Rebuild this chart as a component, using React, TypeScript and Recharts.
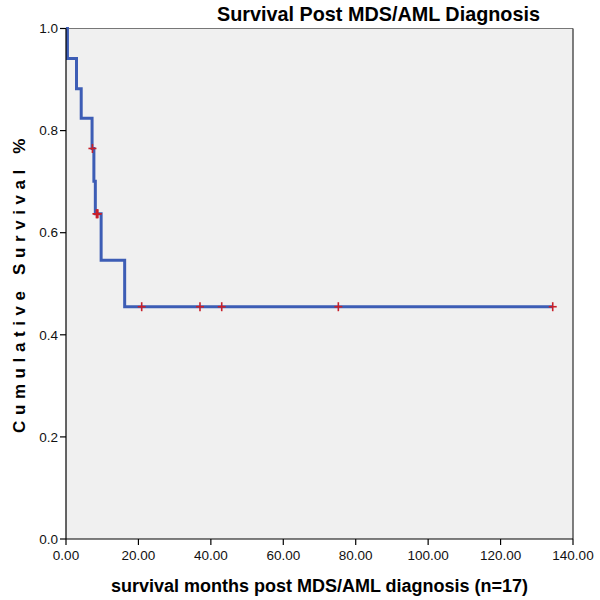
import React from "react";
import {
  ComposedChart,
  Line,
  Scatter,
  XAxis,
  YAxis,
  CartesianGrid,
  ReferenceLine,
} from "recharts";

// Kaplan-Meier step curve (event times in months, cumulative survival)
const stepTimes = [0, 0.4, 2.9, 4.2, 7.2, 7.7, 8.1, 9.7, 16.2, 134.4];
const stepSurvival = [1.0, 0.941, 0.882, 0.824, 0.765, 0.701, 0.637, 0.546, 0.455, 0.455];

// Censored observations
const censorTimes = [7.3, 8.4, 8.6, 8.8, 20.9, 37.0, 43.0, 75.2, 134.4];
const censorSurvival = [0.765, 0.637, 0.637, 0.637, 0.455, 0.455, 0.455, 0.455, 0.455];

const xTicks = [0, 20, 40, 60, 80, 100, 120, 140];
const yTicks = [0, 0.2, 0.4, 0.6, 0.8, 1.0];

const curveData = stepTimes.map((t, i) => ({ t, s: stepSurvival[i] }));
const censorData = censorTimes.map((t, i) => ({ t, s: censorSurvival[i] }));

const FONT = "'Liberation Sans', Arial, Helvetica, sans-serif";

const Plus = (props: any) => {
  const { cx, cy } = props;
  if (cx == null || cy == null) return null;
  return (
    <g>
      <line x1={cx - 4} x2={cx + 4} y1={cy} y2={cy} stroke="#C8202A" strokeWidth={1.6} />
      <line x1={cx} x2={cx} y1={cy - 4.5} y2={cy + 4.5} stroke="#C8202A" strokeWidth={1.6} />
    </g>
  );
};

export default function App() {
  return (
    <div style={{ position: "absolute", left: 0, top: 0, width: 600, height: 600, background: "#fff" }}>
      <ComposedChart
        width={600}
        height={600}
        margin={{ top: 28.5, right: 27, left: 0, bottom: 0 }}
        style={{ fontFamily: FONT }}
      >
        <CartesianGrid
          horizontal={false}
          vertical={false}
          fill="#F0F0F0"
          stroke="none"
        />
        <XAxis
          type="number"
          dataKey="t"
          domain={[0, 140]}
          ticks={xTicks}
          tickFormatter={(v: number) => v.toFixed(2)}
          allowDataOverflow
          height={61}
          tickSize={6}
          tickMargin={5}
          axisLine={{ stroke: "#000", strokeWidth: 1.2 }}
          tickLine={{ stroke: "#000", strokeWidth: 1.2 }}
          tick={{ fill: "#111", fontSize: 13.5, fontFamily: FONT }}
          label={{
            value: "survival months post MDS/AML diagnosis (n=17)",
            position: "insideBottom",
            offset: 8,
            style: { fontSize: 18, fontWeight: "bold", fill: "#000", fontFamily: FONT },
          }}
        />
        <YAxis
          type="number"
          dataKey="s"
          domain={[0, 1]}
          ticks={yTicks}
          tickFormatter={(v: number) => v.toFixed(1)}
          width={66}
          tickSize={6}
          tickMargin={2}
          axisLine={{ stroke: "#000", strokeWidth: 1.2 }}
          tickLine={{ stroke: "#000", strokeWidth: 1.2 }}
          tick={{ fill: "#111", fontSize: 13.5, fontFamily: FONT }}
        />
        <ReferenceLine y={1} stroke="#777" strokeWidth={1} />
        <ReferenceLine x={140} stroke="#555" strokeWidth={1.5} />
        <Line
          data={curveData}
          dataKey="s"
          type="stepAfter"
          stroke="#3D5DB5"
          strokeWidth={3}
          dot={false}
          activeDot={false}
          isAnimationActive={false}
        />
        <Scatter
          data={censorData}
          dataKey="s"
          shape={<Plus />}
          isAnimationActive={false}
        />
        <text
          x={378.5}
          y={21}
          textAnchor="middle"
          style={{ fontSize: 19.8, fontWeight: "bold", fill: "#000", fontFamily: FONT }}
        >
          Survival Post MDS/AML Diagnosis
        </text>
        <text
          x={0}
          y={0}
          transform="translate(24.5, 283) rotate(-90)"
          textAnchor="middle"
          style={{ fontSize: 17, fontWeight: "bold", fill: "#000", letterSpacing: 5.6, fontFamily: FONT }}
        >
          Cumulative Survival %
        </text>
      </ComposedChart>
    </div>
  );
}
